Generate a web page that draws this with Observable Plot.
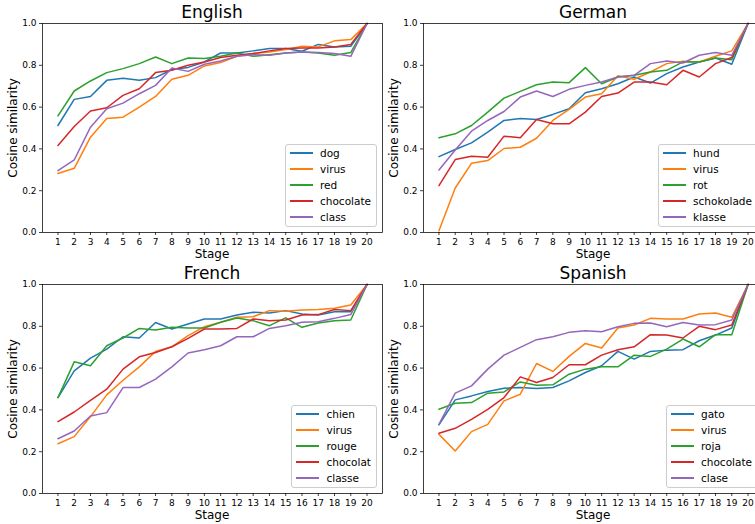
<!DOCTYPE html>
<html>
<head>
<meta charset="utf-8">
<script src="https://cdn.jsdelivr.net/npm/d3@7"></script>
<script src="https://cdn.jsdelivr.net/npm/@observablehq/plot@0.6"></script>
<style>
  html, body { margin: 0; padding: 0; background: #fff; }
  #fig { position: relative; width: 755px; height: 524px; overflow: hidden; background: #fff; font-family: "DejaVu Sans", sans-serif; color: #000; }
  .panel { position: absolute; width: 390px; height: 262px; }
  .panel svg { position: absolute; left: 0; top: 0; }
  .title { position: absolute; font-size: 17px; white-space: nowrap; transform: translateX(-50%); line-height: 1; }
  .xlab { position: absolute; font-size: 12px; white-space: nowrap; transform: translate(-50%, -50%); line-height: 1; }
  .ylab { position: absolute; font-size: 12px; white-space: nowrap; transform: translate(-50%, -50%) rotate(-90deg); line-height: 1; }
  .legend { position: absolute; border: 1px solid #cccccc; border-radius: 3px; background: rgba(255,255,255,0.8); padding: 0px 5px 1px 4px; }
  .legend .row { display: flex; align-items: center; height: 16px; font-size: 10.5px; white-space: nowrap; }
  .legend .sw { width: 23px; height: 2px; margin-right: 7px; flex: none; }
</style>
</head>
<body>
<div id="fig"></div>
<script>
// ---- data ----
const stages = [1, 2, 3, 4, 5, 6, 7, 8, 9, 10, 11, 12, 13, 14, 15, 16, 17, 18, 19, 20];
const yTicks = [0, 0.2, 0.4, 0.6, 0.8, 1.0];
const palette = ["#1f77b4", "#ff7f0e", "#2ca02c", "#d62728", "#9467bd"];

const titles = ["English", "German", "French", "Spanish"];
const xLabel = "Stage";
const yLabel = "Cosine similarity";

const enWords = ["dog", "virus", "red", "chocolate", "class"];
const enDog = [0.512, 0.637, 0.651, 0.728, 0.738, 0.728, 0.741, 0.780, 0.790, 0.816, 0.859, 0.859, 0.869, 0.880, 0.880, 0.867, 0.900, 0.888, 0.891, 1.0];
const enVirus = [0.282, 0.307, 0.456, 0.546, 0.552, 0.600, 0.651, 0.733, 0.752, 0.797, 0.813, 0.843, 0.856, 0.864, 0.875, 0.891, 0.888, 0.917, 0.923, 1.0];
const enRed = [0.558, 0.677, 0.725, 0.765, 0.784, 0.808, 0.840, 0.808, 0.835, 0.832, 0.843, 0.859, 0.843, 0.851, 0.859, 0.864, 0.859, 0.848, 0.861, 1.0];
const enChocolate = [0.416, 0.507, 0.581, 0.597, 0.656, 0.688, 0.765, 0.776, 0.800, 0.816, 0.837, 0.848, 0.856, 0.869, 0.880, 0.883, 0.883, 0.888, 0.900, 1.0];
const enClass = [0.296, 0.347, 0.504, 0.592, 0.619, 0.664, 0.704, 0.787, 0.771, 0.805, 0.821, 0.843, 0.851, 0.848, 0.859, 0.864, 0.861, 0.856, 0.843, 1.0];

const deWords = ["hund", "virus", "rot", "schokolade", "klasse"];
const deHund = [0.363, 0.397, 0.429, 0.480, 0.536, 0.546, 0.541, 0.565, 0.592, 0.669, 0.688, 0.712, 0.744, 0.715, 0.760, 0.792, 0.816, 0.835, 0.805, 1.0];
const deVirus = [0.008, 0.213, 0.331, 0.344, 0.402, 0.408, 0.451, 0.536, 0.589, 0.648, 0.664, 0.750, 0.733, 0.768, 0.808, 0.819, 0.816, 0.843, 0.869, 1.0];
const deRot = [0.453, 0.472, 0.512, 0.576, 0.643, 0.675, 0.707, 0.720, 0.717, 0.789, 0.712, 0.744, 0.752, 0.768, 0.776, 0.816, 0.816, 0.835, 0.827, 1.0];
const deSchokolade = [0.224, 0.349, 0.365, 0.360, 0.461, 0.453, 0.541, 0.520, 0.520, 0.576, 0.651, 0.667, 0.720, 0.720, 0.707, 0.776, 0.744, 0.808, 0.837, 1.0];
const deKlasse = [0.299, 0.395, 0.485, 0.536, 0.579, 0.648, 0.677, 0.651, 0.685, 0.704, 0.720, 0.744, 0.752, 0.808, 0.821, 0.811, 0.848, 0.861, 0.848, 1.0];

const frWords = ["chien", "virus", "rouge", "chocolat", "classe"];
const frChien = [0.459, 0.587, 0.648, 0.691, 0.750, 0.744, 0.818, 0.787, 0.811, 0.835, 0.835, 0.854, 0.867, 0.864, 0.875, 0.859, 0.854, 0.870, 0.870, 1.0];
const frVirus = [0.238, 0.272, 0.368, 0.472, 0.542, 0.606, 0.680, 0.702, 0.755, 0.798, 0.819, 0.843, 0.846, 0.875, 0.872, 0.878, 0.880, 0.886, 0.902, 1.0];
const frRouge = [0.459, 0.630, 0.611, 0.707, 0.744, 0.790, 0.782, 0.795, 0.792, 0.792, 0.819, 0.840, 0.827, 0.803, 0.840, 0.795, 0.816, 0.827, 0.830, 1.0];
const frChocolat = [0.344, 0.390, 0.446, 0.499, 0.595, 0.654, 0.675, 0.702, 0.742, 0.787, 0.787, 0.790, 0.835, 0.827, 0.830, 0.854, 0.856, 0.880, 0.875, 1.0];
const frClasse = [0.262, 0.299, 0.371, 0.387, 0.507, 0.507, 0.547, 0.606, 0.672, 0.688, 0.707, 0.750, 0.750, 0.790, 0.803, 0.819, 0.822, 0.838, 0.856, 1.0];

const esWords = ["gato", "virus", "roja", "chocolate", "clase"];
const esGato = [0.328, 0.448, 0.467, 0.488, 0.504, 0.507, 0.502, 0.507, 0.539, 0.579, 0.611, 0.680, 0.643, 0.680, 0.686, 0.688, 0.731, 0.758, 0.792, 1.0];
const esVirus = [0.283, 0.203, 0.296, 0.331, 0.443, 0.475, 0.622, 0.584, 0.656, 0.718, 0.696, 0.792, 0.806, 0.838, 0.835, 0.835, 0.859, 0.864, 0.843, 1.0];
const esRoja = [0.403, 0.432, 0.435, 0.480, 0.486, 0.534, 0.518, 0.520, 0.571, 0.595, 0.606, 0.606, 0.662, 0.656, 0.691, 0.739, 0.702, 0.760, 0.760, 1.0];
const esChocolate = [0.288, 0.312, 0.355, 0.403, 0.459, 0.558, 0.531, 0.555, 0.616, 0.616, 0.662, 0.688, 0.702, 0.760, 0.758, 0.744, 0.800, 0.784, 0.806, 1.0];
const esClase = [0.331, 0.480, 0.515, 0.595, 0.662, 0.699, 0.736, 0.750, 0.771, 0.779, 0.774, 0.798, 0.814, 0.816, 0.798, 0.818, 0.806, 0.808, 0.830, 1.0];

// ---- layout ----
const PW = 390, PH = 262;
const M = {left: 42, right: 8, top: 23, bottom: 30};
const panels = [
  {title: titles[0], words: enWords, series: [enDog, enVirus, enRed, enChocolate, enClass], left: 0, top: 0},
  {title: titles[1], words: deWords, series: [deHund, deVirus, deRot, deSchokolade, deKlasse], left: 381, top: 0},
  {title: titles[2], words: frWords, series: [frChien, frVirus, frRouge, frChocolat, frClasse], left: 0, top: 261},
  {title: titles[3], words: esWords, series: [esGato, esVirus, esRoja, esChocolate, esClase], left: 381, top: 261}
];

const fig = document.getElementById("fig");

for (const p of panels) {
  const rows = [];
  p.words.forEach((w, i) => {
    stages.forEach((s, j) => rows.push({word: w, stage: s, value: p.series[i][j]}));
  });

  const chart = Plot.plot({
    width: PW,
    height: PH,
    marginLeft: M.left,
    marginRight: M.right,
    marginTop: M.top,
    marginBottom: M.bottom,
    style: {fontFamily: "DejaVu Sans", fontSize: "9px", color: "#000", background: "transparent", overflow: "visible"},
    x: {domain: [0.05, 20.95]},
    y: {domain: [0, 1]},
    color: {domain: p.words, range: palette},
    marks: [
      Plot.line(rows, {x: "stage", y: "value", z: "word", stroke: "word", strokeWidth: 1.5}),
      Plot.frame({stroke: "#000", strokeWidth: 0.75}),
      Plot.axisX({ticks: stages, tickSize: 3, tickPadding: 3, tickFormat: d => String(d), label: null, fontSize: 9, strokeWidth: 0.75}),
      Plot.axisY({ticks: yTicks, tickSize: 3, tickPadding: 3, tickFormat: d3.format(".1f"), label: null, fontSize: 9, strokeWidth: 0.75})
    ]
  });

  const div = document.createElement("div");
  div.className = "panel";
  div.style.left = p.left + "px";
  div.style.top = p.top + "px";
  div.appendChild(chart);

  const axL = M.left, axR = PW - M.right, axT = M.top, axB = PH - M.bottom;
  const cx = (axL + axR) / 2;

  const t = document.createElement("div");
  t.className = "title";
  t.textContent = p.title;
  t.style.left = cx + "px";
  t.style.top = (axT - 19.5) + "px";
  div.appendChild(t);

  const xl = document.createElement("div");
  xl.className = "xlab";
  xl.textContent = xLabel;
  xl.style.left = cx + "px";
  xl.style.top = (axB + 22) + "px";
  div.appendChild(xl);

  const yl = document.createElement("div");
  yl.className = "ylab";
  yl.textContent = yLabel;
  yl.style.left = "13px";
  yl.style.top = ((axT + axB) / 2) + "px";
  div.appendChild(yl);

  const lg = document.createElement("div");
  lg.className = "legend";
  lg.style.right = (PW - axR + 5) + "px";
  lg.style.bottom = (PH - axB + 5) + "px";
  p.words.forEach((w, i) => {
    const r = document.createElement("div");
    r.className = "row";
    const sw = document.createElement("div");
    sw.className = "sw";
    sw.style.backgroundColor = palette[i];
    const tx = document.createElement("span");
    tx.textContent = w;
    r.appendChild(sw);
    r.appendChild(tx);
    lg.appendChild(r);
  });
  div.appendChild(lg);

  fig.appendChild(div);
}
</script>
</body>
</html>
